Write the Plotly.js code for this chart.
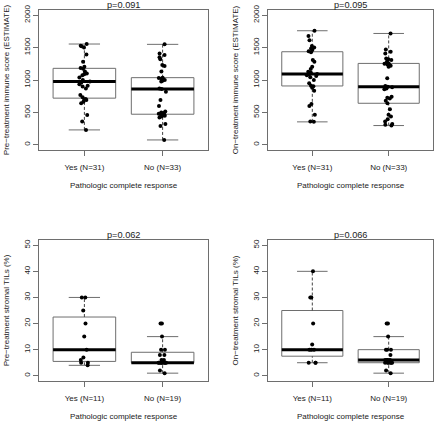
<!DOCTYPE html>
<html>
<head>
<meta charset="utf-8">
<script src="https://cdn.plot.ly/plotly-3.0.1.min.js"></script>
<style>
  html, body { margin: 0; padding: 0; background: #fff; }
  #chart { width: 440px; height: 421px; }
</style>
</head>
<body>
<div id="chart"></div>
<script>
// ---- data ----
const groups = ["Yes", "No"];
const immuneTickLabels = ["Yes (N=31)", "No (N=33)"];
const tilsTickLabels = ["Yes (N=11)", "No (N=19)"];
const pValues = ["p=0.091", "p=0.095", "p=0.062", "p=0.066"];
const yTitles = [
  "Pre\u2212treatment immune score (ESTIMATE)",
  "On\u2212treatment immune score (ESTIMATE)",
  "Pre\u2212treatment stromal TILs (%)",
  "On\u2212treatment stromal TILs (%)"
];
const xTitle = "Pathologic complete response";
const immuneTicks = [0, 500, 1000, 1500, 2000];
const tilsTicks = [0, 10, 20, 30, 40, 50];

const preImmuneYes = [230, 360, 460, 640, 665, 690, 695, 705, 735, 770, 870, 900, 910, 935, 960, 975,
  1000, 1040, 1075, 1090, 1100, 1130, 1175, 1185, 1205, 1280, 1395, 1500, 1520, 1530, 1555];
const preImmuneNo = [75, 290, 320, 420, 435, 450, 460, 465, 472, 480, 490, 500, 515, 600, 690, 820, 862,
  870, 975, 990, 1000, 1010, 1020, 1030, 1036, 1130, 1215, 1230, 1320, 1350, 1385, 1410, 1550];
const onImmuneYes = [354, 360, 462, 600, 631, 836, 882, 905, 911, 949, 1000, 1041, 1062, 1075, 1085, 1092,
  1110, 1128, 1170, 1205, 1282, 1308, 1430, 1442, 1462, 1487, 1500, 1523, 1615, 1677, 1760];
const onImmuneNo = [297, 310, 323, 359, 395, 436, 462, 549, 641, 680, 713, 728, 740, 856, 870, 887, 897,
  908, 1026, 1205, 1220, 1231, 1240, 1250, 1256, 1282, 1308, 1320, 1333, 1410, 1436, 1472, 1718];
const preTilsYes = [4, 5, 5, 6, 7, 10, 15, 20, 25, 30, 30];
const preTilsNo = [1, 2, 5, 5, 5, 5, 5, 5, 5, 5, 6, 6, 8, 8, 10, 10, 15, 20, 20];
const onTilsYes = [5, 5, 5, 10, 10, 10, 12, 20, 30, 30, 40];
const onTilsNo = [1, 2, 5, 5, 5, 5, 5, 5, 6, 6, 6, 6, 8, 10, 10, 10, 15, 20, 20];

// ---- helpers: R-style boxplot statistics ----
function fivenum(a) {
  const x = a.slice().sort((p, q) => p - q);
  const n = x.length;
  const n4 = Math.floor((n + 3) / 2) / 2;
  const d = [1, n4, (n + 1) / 2, n + 1 - n4, n];
  return d.map(v => 0.5 * (x[Math.floor(v) - 1] + x[Math.ceil(v) - 1]));
}
function boxStats(a) {
  const f = fivenum(a);
  const iqr = f[3] - f[1];
  const lo = Math.min(...a.filter(v => v >= f[1] - 1.5 * iqr));
  const hi = Math.max(...a.filter(v => v <= f[3] + 1.5 * iqr));
  return { q1: f[1], med: f[2], q3: f[3], lo: lo, hi: hi };
}

const W = 440, H = 421;
const panels = [
  { data: [preImmuneYes, preImmuneNo], labels: immuneTickLabels, ticks: immuneTicks, range: [-80, 2080], px: [39, 208], py: [10, 150] },
  { data: [onImmuneYes, onImmuneNo], labels: immuneTickLabels, ticks: immuneTicks, range: [-80, 2080], px: [268, 433], py: [10, 150] },
  { data: [preTilsYes, preTilsNo], labels: tilsTickLabels, ticks: tilsTicks, range: [-2, 52], px: [39, 208], py: [240, 381] },
  { data: [onTilsYes, onTilsNo], labels: tilsTickLabels, ticks: tilsTicks, range: [-2, 52], px: [268, 433], py: [240, 381] }
];

const traces = [];
const shapes = [];
const annotations = [];
const layout = {
  width: W, height: H,
  margin: { l: 0, r: 0, t: 0, b: 0 },
  paper_bgcolor: "#fff", plot_bgcolor: "#fff",
  showlegend: false,
  font: { family: "Liberation Sans, Arial, sans-serif", size: 8, color: "#222" },
  boxmode: "overlay"
};

const lineCol = "#6e6e6e";
const boxHalf = 0.4, capHalf = 0.2;

panels.forEach((p, i) => {
  const s = i === 0 ? "" : String(i + 1);
  const xa = "x" + s, ya = "y" + s;
  layout["xaxis" + s] = {
    domain: [p.px[0] / W, p.px[1] / W],
    anchor: ya,
    range: [0.42, 2.58],
    tickvals: [1, 2], ticktext: p.labels,
    ticks: "outside", ticklen: 5, tickcolor: lineCol,
    ticklabelstandoff: 4,
    showline: true, mirror: true, linecolor: lineCol, linewidth: 1,
    showgrid: false, zeroline: false,
    tickfont: { size: 8, color: "#222" },
    title: { text: xTitle, font: { size: 8, color: "#222" }, standoff: 11 }
  };
  layout["yaxis" + s] = {
    domain: [1 - p.py[1] / H, 1 - p.py[0] / H],
    anchor: xa,
    range: p.range,
    tickvals: p.ticks,
    tickangle: -90,
    ticks: "outside", ticklen: 5, tickcolor: lineCol,
    showline: true, mirror: true, linecolor: lineCol, linewidth: 1,
    showgrid: false, zeroline: false,
    tickfont: { size: 8, color: "#222" },
    title: { text: yTitles[i], font: { size: 8, color: "#222" }, standoff: 11 }
  };

  p.data.forEach((vals, g) => {
    const c = g + 1;
    const st = boxStats(vals);
    // box
    shapes.push({ type: "rect", xref: xa, yref: ya, x0: c - boxHalf, x1: c + boxHalf, y0: st.q1, y1: st.q3,
      line: { color: lineCol, width: 1 }, fillcolor: "rgba(0,0,0,0)", layer: "below" });
    // whiskers (dashed)
    shapes.push({ type: "line", xref: xa, yref: ya, x0: c, x1: c, y0: st.q3, y1: st.hi,
      line: { color: "#444", width: 1, dash: "3px,2px" }, layer: "below" });
    shapes.push({ type: "line", xref: xa, yref: ya, x0: c, x1: c, y0: st.lo, y1: st.q1,
      line: { color: "#444", width: 1, dash: "3px,2px" }, layer: "below" });
    // staples
    shapes.push({ type: "line", xref: xa, yref: ya, x0: c - capHalf, x1: c + capHalf, y0: st.hi, y1: st.hi,
      line: { color: lineCol, width: 1 }, layer: "below" });
    shapes.push({ type: "line", xref: xa, yref: ya, x0: c - capHalf, x1: c + capHalf, y0: st.lo, y1: st.lo,
      line: { color: lineCol, width: 1 }, layer: "below" });
    // median
    shapes.push({ type: "line", xref: xa, yref: ya, x0: c - boxHalf, x1: c + boxHalf, y0: st.med, y1: st.med,
      line: { color: "#000", width: 3 } });

    // jittered points (box itself hidden)
    traces.push({
      type: "box", xaxis: xa, yaxis: ya,
      y: vals, x0: c, width: 0.8, name: groups[g],
      boxpoints: "all", jitter: 0.2, pointpos: 0,
      line: { width: 0, color: "rgba(0,0,0,0)" }, fillcolor: "rgba(0,0,0,0)",
      marker: { color: "#000", size: 4 },
      hoverinfo: "skip"
    });
  });

  annotations.push({
    text: pValues[i], xref: "paper", yref: "paper",
    x: ((p.px[0] + p.px[1]) / 2) / W, y: 1 - p.py[0] / H,
    xanchor: "center", yanchor: "bottom", yshift: -1, borderpad: 0, showarrow: false,
    font: { size: 9.2, color: "#222" }
  });
});

layout.shapes = shapes;
layout.annotations = annotations;

Plotly.newPlot("chart", traces, layout, { displayModeBar: false, staticPlot: true });
</script>
</body>
</html>
